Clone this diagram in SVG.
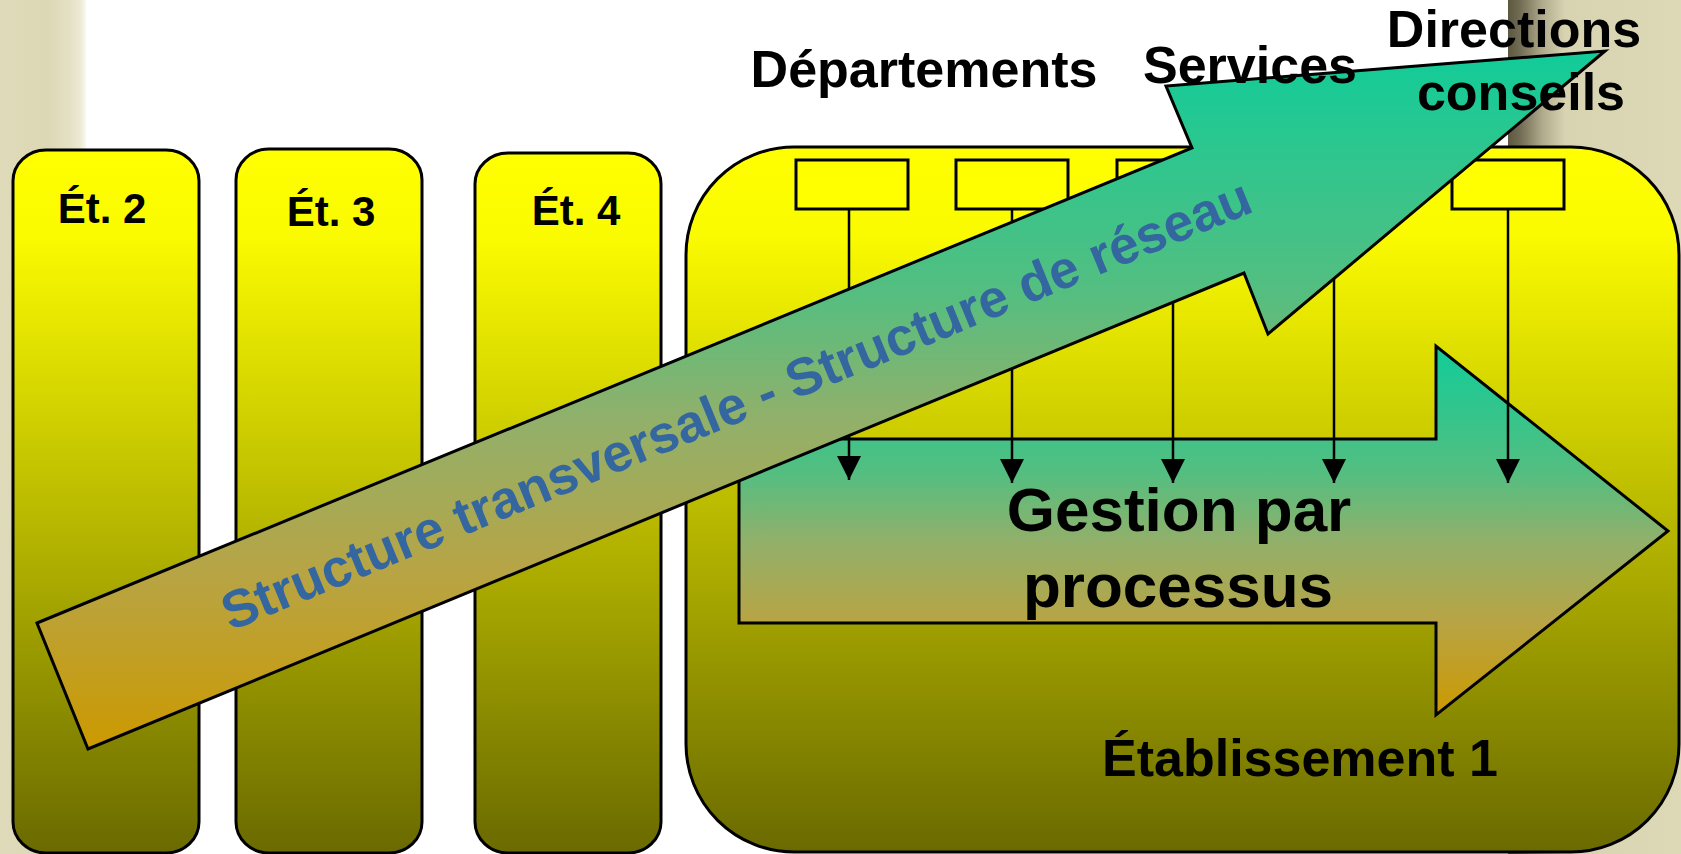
<svg xmlns="http://www.w3.org/2000/svg" width="1681" height="854" viewBox="0 0 1681 854">
  <style>
    .lbl { font-family: "Liberation Sans", Arial, sans-serif; font-weight: bold; fill: #000; }
    .col { fill: url(#gYellow); stroke: #000; stroke-width: 3; }
    .box { fill: #FFFF00; stroke: #000; stroke-width: 3; }
    .flow { fill: url(#gFlow); stroke: #000; stroke-width: 3; stroke-linejoin: miter; }
    .link { stroke: #000; stroke-width: 2.5; fill: none; marker-end: url(#arrowHead); }
  </style>
  <defs>
    <linearGradient id="gLeftBand" x1="0" y1="0" x2="1" y2="0">
      <stop offset="0" stop-color="#DFDBBA"/>
      <stop offset="0.55" stop-color="#DCD8B5"/>
      <stop offset="0.8" stop-color="#E4E0C4"/>
      <stop offset="0.93" stop-color="#ECE9D4"/>
      <stop offset="1" stop-color="#FAF9F2"/>
    </linearGradient>
    <linearGradient id="gRightBand" x1="0" y1="0" x2="1" y2="0">
      <stop offset="0" stop-color="#5C573F"/>
      <stop offset="0.07" stop-color="#716C53"/>
      <stop offset="0.2" stop-color="#B0AB8C"/>
      <stop offset="0.33" stop-color="#D8D4B2"/>
      <stop offset="1" stop-color="#DDD9B7"/>
    </linearGradient>
    <linearGradient id="gYellow" x1="0" y1="0" x2="0" y2="1">
      <stop offset="0" stop-color="#FFFF00"/>
      <stop offset="0.12" stop-color="#FBFB00"/>
      <stop offset="1" stop-color="#6A6A00"/>
    </linearGradient>
    <linearGradient id="gFlow" x1="0" y1="0" x2="0" y2="1">
      <stop offset="0" stop-color="#11CC99"/>
      <stop offset="0.35" stop-color="#55BE80"/>
      <stop offset="0.53" stop-color="#92B06A"/>
      <stop offset="0.75" stop-color="#B8A444"/>
      <stop offset="1" stop-color="#CC9900"/>
    </linearGradient>
    <marker id="arrowHead" markerUnits="userSpaceOnUse" markerWidth="24" markerHeight="24" refX="24" refY="12" orient="auto" viewBox="0 0 24 24">
      <path d="M0,0 L24,12 L0,24 Z" fill="#000"/>
    </marker>
  </defs>

  <!-- page background with side bands -->
  <rect x="0" y="0" width="1681" height="854" fill="#FFFFFF"/>
  <rect x="0" y="0" width="86" height="854" fill="url(#gLeftBand)"/>
  <rect x="1508" y="0" width="173" height="854" fill="url(#gRightBand)"/>

  <!-- establishment columns -->
  <g id="etab2">
    <rect class="col" x="13" y="150" width="186" height="703" rx="33" ry="31"/>
    <text class="lbl" x="102" y="223" font-size="42" text-anchor="middle">Ét. 2</text>
  </g>
  <g id="etab3">
    <rect class="col" x="236" y="149" width="186" height="704" rx="33" ry="31"/>
    <text class="lbl" x="331" y="226" font-size="42" text-anchor="middle">Ét. 3</text>
  </g>
  <g id="etab4">
    <rect class="col" x="475" y="153" width="186" height="700" rx="33" ry="31"/>
    <text class="lbl" x="576" y="225" font-size="42" text-anchor="middle">Ét. 4</text>
  </g>

  <!-- main establishment -->
  <g id="etab1">
    <rect class="col" x="686" y="147" width="993" height="705" rx="108" ry="108"/>
    <text class="lbl" x="1300" y="776" font-size="52" text-anchor="middle">Établissement 1</text>
  </g>

  <!-- department boxes -->
  <g id="dept1"><rect class="box" x="796" y="160" width="112" height="49"/></g>
  <g id="dept2"><rect class="box" x="956" y="160" width="112" height="49"/></g>
  <g id="dept3"><rect class="box" x="1117" y="160" width="112" height="49"/></g>
  <g id="dept4"><rect class="box" x="1278" y="160" width="112" height="49"/></g>
  <g id="dept5"><rect class="box" x="1452" y="160" width="112" height="49"/></g>

  <!-- process arrow -->
  <g id="processus">
    <polygon class="flow" points="739,439 1436,439 1436,346 1668,531 1436,715 1436,623 739,623"/>
  </g>

  <!-- links from units down to the process -->
  <g id="connectors">
    <line class="link" x1="849" y1="209" x2="849" y2="480"/>
    <line class="link" x1="1012" y1="209" x2="1012" y2="483"/>
    <line class="link" x1="1173" y1="209" x2="1173" y2="483"/>
    <line class="link" x1="1334" y1="209" x2="1334" y2="483"/>
    <line class="link" x1="1508" y1="209" x2="1508" y2="483"/>
  </g>

  <!-- transversal network arrow -->
  <g id="transversal">
    <polygon class="flow" points="37,623 1192,148 1166,86 1605,51 1268,334 1244,273 88,749"/>
    <text transform="translate(743,421) rotate(-22.3)" x="0" y="0" font-family="Liberation Sans, Arial, sans-serif" font-weight="bold" font-size="53" fill="#34669F" text-anchor="middle">Structure transversale - Structure de réseau</text>
  </g>

  <!-- process label -->
  <g id="processus-label">
    <text class="lbl" x="1179" y="531" font-size="62" text-anchor="middle">Gestion par</text>
    <text class="lbl" x="1178" y="607" font-size="62" text-anchor="middle">processus</text>
  </g>

  <!-- level headings -->
  <g id="headings">
    <text class="lbl" x="924" y="87" font-size="52" text-anchor="middle">Départements</text>
    <text class="lbl" x="1250" y="83" font-size="52" text-anchor="middle">Services</text>
    <text class="lbl" x="1514" y="47" font-size="52" text-anchor="middle">Directions</text>
    <text class="lbl" x="1521" y="110" font-size="52" text-anchor="middle">conseils</text>
  </g>
</svg>
